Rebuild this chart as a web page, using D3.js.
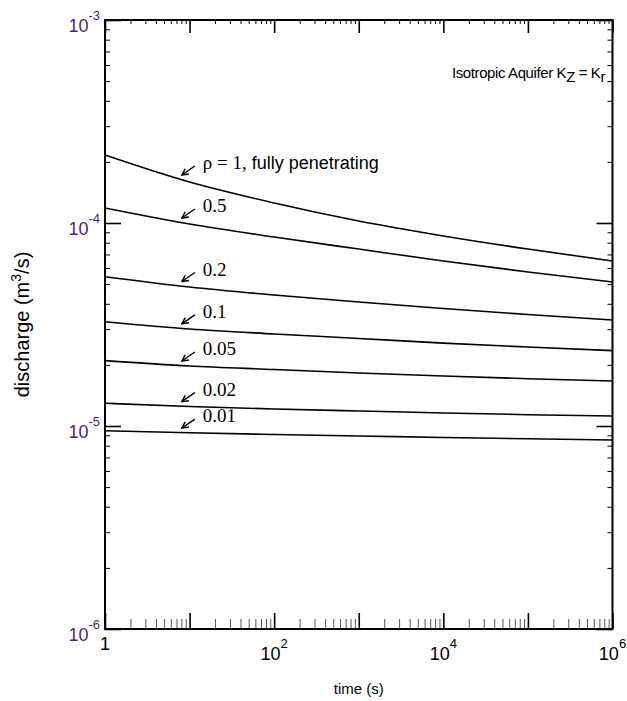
<!DOCTYPE html>
<html>
<head>
<meta charset="utf-8">
<script src="https://cdn.jsdelivr.net/npm/d3@7"></script>
<style>
  body { margin: 0; background: #fff; }
  text { font-family: Arial, "Liberation Sans", sans-serif; }
  .serif { font-family: "Liberation Serif", "Times New Roman", serif; }
</style>
</head>
<body>
<div id="vis"></div>
<script>
// time (s)
const times = [1, 10, 100, 1000, 1e4, 1e5, 1e6];

// discharge (m3/s) for each partial penetration ratio
const rho1    = [2.163e-4, 1.592e-4, 1.255e-4, 1.023e-4, 8.63e-5, 7.44e-5, 6.50e-5];
const rho05   = [1.186e-4, 9.89e-5, 8.53e-5, 7.44e-5, 6.50e-5, 5.74e-5, 5.12e-5];
const rho02   = [5.44e-5, 4.84e-5, 4.42e-5, 4.08e-5, 3.79e-5, 3.54e-5, 3.33e-5];
const rho01   = [3.265e-5, 3.005e-5, 2.84e-5, 2.70e-5, 2.56e-5, 2.45e-5, 2.35e-5];
const rho005  = [2.098e-5, 1.975e-5, 1.898e-5, 1.824e-5, 1.763e-5, 1.710e-5, 1.666e-5];
const rho002  = [1.294e-5, 1.248e-5, 1.213e-5, 1.186e-5, 1.159e-5, 1.137e-5, 1.120e-5];
const rho001  = [9.48e-6, 9.26e-6, 9.08e-6, 8.93e-6, 8.78e-6, 8.65e-6, 8.53e-6];

const seriesValues = [rho1, rho05, rho02, rho01, rho005, rho002, rho001];
const seriesLabels = ["1", "0.5", "0.2", "0.1", "0.05", "0.02", "0.01"];

const xMajor = [0, 1, 2, 3, 4, 5, 6];     // exponents of 10 (ticks)
const xLabelled = [0, 2, 4, 6];           // exponents with a label
const yMajor = [-6, -5, -4, -3];

const arrowTime = 8.1;   // where the label arrows point at

let width = 627, height = 701;
let margin = {top: 20, right: 14.5, bottom: 72, left: 105};

let svg = d3.select('#vis')
    .append('svg')
    .attr('width', width)
    .attr('height', height);

let xScale = d3.scaleLog()
    .domain([1, 1e6])
    .range([margin.left, width - margin.right]);

let yScale = d3.scaleLog()
    .domain([1e-6, 1e-3])
    .range([height - margin.bottom, margin.top]);

let x0 = xScale.range()[0], x1 = xScale.range()[1];
let y0 = yScale.range()[0], y1 = yScale.range()[1];

// minor tick values
let xMinor = [], yMinor = [];
for (let d = 0; d < 6; d++) for (let k = 2; k < 10; k++) xMinor.push(k * Math.pow(10, d));
for (let d = -6; d < -3; d++) for (let k = 2; k < 10; k++) yMinor.push(k * Math.pow(10, d));
let xMajorVals = xMajor.map(e => Math.pow(10, e));
let yMajorVals = yMajor.map(e => Math.pow(10, e));

function tickGroup(axis, transform, color, sw) {
    let g = svg.append('g')
        .attr('transform', transform)
        .call(axis);
    g.select('.domain').remove();
    g.selectAll('line').attr('stroke', color).attr('stroke-width', sw);
    g.selectAll('text').remove();
    return g;
}

// bottom
tickGroup(d3.axisBottom(xScale).tickValues(xMinor).tickSize(-10), 'translate(0,' + y0 + ')', '#555', 1);
tickGroup(d3.axisBottom(xScale).tickValues(xMajorVals).tickSize(-16), 'translate(0,' + y0 + ')', '#000', 1.6);
// top
tickGroup(d3.axisTop(xScale).tickValues(xMinor).tickSize(-4), 'translate(0,' + y1 + ')', '#000', 1);
tickGroup(d3.axisTop(xScale).tickValues(xMajorVals).tickSize(-13), 'translate(0,' + y1 + ')', '#000', 1.6);
// left
tickGroup(d3.axisLeft(yScale).tickValues(yMinor).tickSize(-5), 'translate(' + x0 + ',0)', '#000', 1);
tickGroup(d3.axisLeft(yScale).tickValues(yMajorVals).tickSize(-16), 'translate(' + x0 + ',0)', '#000', 1.6);
// right
tickGroup(d3.axisRight(yScale).tickValues(yMinor).tickSize(-5), 'translate(' + x1 + ',0)', '#000', 1);
tickGroup(d3.axisRight(yScale).tickValues(yMajorVals).tickSize(-16), 'translate(' + x1 + ',0)', '#000', 1.6);

// frame
svg.append('rect')
    .attr('x', x0).attr('y', y1)
    .attr('width', x1 - x0).attr('height', y0 - y1)
    .attr('fill', 'none')
    .attr('stroke', '#000')
    .attr('stroke-width', 2);

// curves
let line = d3.line()
    .x((d, i) => xScale(times[i]))
    .y(d => yScale(d))
    .curve(d3.curveMonotoneX);

svg.selectAll('path.curve')
    .data(seriesValues)
    .enter()
    .append('path')
    .attr('class', 'curve')
    .attr('d', d => line(d))
    .attr('fill', 'none')
    .attr('stroke', '#000')
    .attr('stroke-width', 1.6);

// arrows + labels
svg.append('defs').append('marker')
    .attr('id', 'arr')
    .attr('viewBox', '0 0 10 10')
    .attr('refX', 9).attr('refY', 5)
    .attr('markerWidth', 8).attr('markerHeight', 8)
    .attr('markerUnits', 'userSpaceOnUse')
    .attr('orient', 'auto')
    .append('path')
    .attr('d', 'M1,1 L9,5 L1,9')
    .attr('fill', 'none')
    .attr('stroke', '#000')
    .attr('stroke-width', 1.8);

function valueAt(vals, t) {
    let lt = Math.log10(t);
    let i = Math.floor(lt);
    let f = lt - i;
    let a = Math.log10(vals[i]), b = Math.log10(vals[i + 1]);
    return Math.pow(10, a + (b - a) * f);
}

seriesValues.forEach(function(vals, i) {
    let tx = xScale(arrowTime);
    let ty = yScale(valueAt(vals, arrowTime)) - 4.5;
    svg.append('line')
        .attr('x1', tx + 13).attr('y1', ty - 9)
        .attr('x2', tx).attr('y2', ty)
        .attr('stroke', '#000')
        .attr('stroke-width', 1.4)
        .attr('marker-end', 'url(#arr)');

    let label = svg.append('text')
        .attr('x', tx + 21)
        .attr('y', ty - 6)
        .attr('font-size', 19);
    if (i === 0) {
        label.append('tspan').attr('class', 'serif').text('\u03C1 = ' + seriesLabels[i] + ',');
        label.append('tspan').attr('font-size', 18).text(' fully penetrating');
    } else {
        label.append('tspan').attr('class', 'serif').text(seriesLabels[i]);
    }
});

// x tick labels
xLabelled.forEach(function(e) {
    let t = svg.append('text')
        .attr('x', xScale(Math.pow(10, e)))
        .attr('text-anchor', 'middle')
        .attr('fill', '#000');
    if (e === 0) {
        t.attr('y', y0 + 21).attr('font-size', 18).text('1');
    } else {
        t.attr('y', y0 + 31).attr('font-size', 18);
        t.append('tspan').text('10');
        t.append('tspan').attr('font-size', 13).attr('dy', -12).text(e);
    }
});

// y tick labels
yMajor.forEach(function(e) {
    let t = svg.append('text')
        .attr('x', x0 - 5)
        .attr('y', yScale(Math.pow(10, e)) + 12)
        .attr('text-anchor', 'end')
        .attr('font-size', 18)
        .attr('fill', '#4a1f86');
    t.append('tspan').text('10');
    t.append('tspan').attr('font-size', 13).attr('dy', -12).text(e);
});

// axis titles
svg.append('text')
    .attr('x', (x0 + x1) / 2)
    .attr('y', 694)
    .attr('text-anchor', 'middle')
    .attr('font-size', 15)
    .text('time (s)');

let yt = svg.append('text')
    .attr('transform', 'translate(29,' + ((y0 + y1) / 2) + ') rotate(-90)')
    .attr('text-anchor', 'middle')
    .attr('font-size', 20);
yt.append('tspan').text('discharge (m');
yt.append('tspan').attr('font-size', 14).attr('dy', -8).text('3');
yt.append('tspan').attr('dy', 8).text('/s)');

// annotation
let ann = svg.append('text')
    .attr('x', 452)
    .attr('y', 78)
    .attr('font-size', 15)
    .attr('letter-spacing', -0.4);
ann.append('tspan').text('Isotropic Aquifer K');
ann.append('tspan').attr('dy', 4).text('Z');
ann.append('tspan').attr('dy', -4).text(' = K');
ann.append('tspan').attr('dy', 4).text('r');
</script>
</body>
</html>
